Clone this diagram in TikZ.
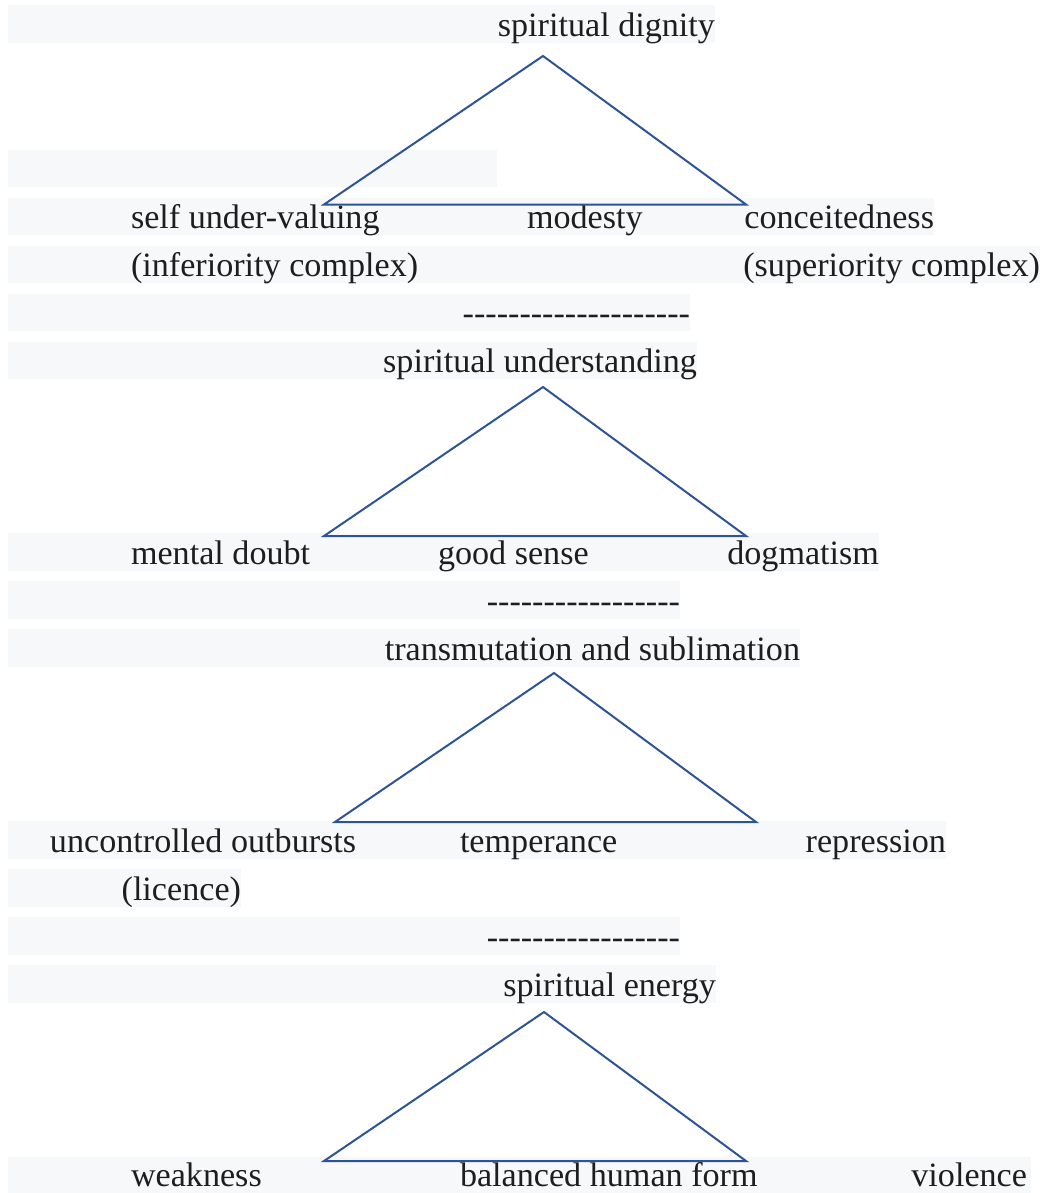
\documentclass[tikz,border=0pt]{standalone}
\usepackage{fontspec}
\setmainfont{Liberation Serif}
\definecolor{bandgray}{HTML}{F7F8FA}
\definecolor{triblue}{HTML}{2F5496}
\definecolor{txtgray}{HTML}{1E1E1E}
\begin{document}
\begin{tikzpicture}[x=0.75pt,y=-0.75pt,
  bandbox/.style={fill=bandgray,draw=none},
  lbl/.style={inner sep=0pt,outer sep=0pt,text=txtgray,font=\fontsize{25.6}{30}\selectfont},
  triline/.style={draw=triblue,line width=1.5pt,line join=miter}]
\useasboundingbox (0,0) rectangle (1044,1193);
\fill[white] (0,0) rectangle (1044,1193);
% highlight bands
\fill[bandbox] (8,5) rectangle (715,42.5);
\fill[bandbox] (8,149.5) rectangle (497,187);
\fill[bandbox] (8,197.5) rectangle (934,235);
\fill[bandbox] (8,245.5) rectangle (1040,283);
\fill[bandbox] (8,293.5) rectangle (690,331);
\fill[bandbox] (8,341.5) rectangle (697,379);
\fill[bandbox] (8,533) rectangle (879,570.5);
\fill[bandbox] (8,581) rectangle (680,618.5);
\fill[bandbox] (8,629) rectangle (800,666.5);
\fill[bandbox] (8,821) rectangle (946,858.5);
\fill[bandbox] (8,869) rectangle (241,906.5);
\fill[bandbox] (8,917) rectangle (680,954.5);
\fill[bandbox] (8,965) rectangle (716,1002.5);
\fill[bandbox] (8,1157) rectangle (1031,1193);
% row 1
\node[lbl,anchor=base east] (sd) at (715,36.5) {spiritual dignity};
% row 3
\node[lbl,anchor=base west] (suv) at (131,228.5) {self under-valuing};
\node[lbl,anchor=base west] (mod) at (527,228.5) {modesty};
\node[lbl,anchor=base east] (con) at (934,228.5) {conceitedness};
% row 4
\node[lbl,anchor=base west] (inf) at (131,276.5) {(inferiority complex)};
\node[lbl,anchor=base east] (sup) at (1040,276.5) {(superiority complex)};
% row 5
\node[lbl,anchor=base east] (d1) at (690,324.5) {-{}-{}-{}-{}-{}-{}-{}-{}-{}-{}-{}-{}-{}-{}-{}-{}-{}-{}-{}-};
% row 6
\node[lbl,anchor=base east] (su) at (697,372.5) {spiritual understanding};
% row 7
\node[lbl,anchor=base west] (md) at (131,564.5) {mental doubt};
\node[lbl,anchor=base west] (gs) at (438,564.5) {good sense};
\node[lbl,anchor=base east] (dog) at (879,564.5) {dogmatism};
% row 8
\node[lbl,anchor=base east] (d2) at (680,612.5) {-{}-{}-{}-{}-{}-{}-{}-{}-{}-{}-{}-{}-{}-{}-{}-{}-};
% row 9
\node[lbl,anchor=base east] (tas) at (800,660.5) {transmutation and sublimation};
% row 10
\node[lbl,anchor=base west] (uo) at (50,852.5) {uncontrolled outbursts};
\node[lbl,anchor=base west] (tem) at (460,852.5) {temperance};
\node[lbl,anchor=base east] (rep) at (946,852.5) {repression};
% row 11
\node[lbl,anchor=base east] (lic) at (241,900.5) {(licence)};
% row 12
\node[lbl,anchor=base east] (d3) at (680,948.5) {-{}-{}-{}-{}-{}-{}-{}-{}-{}-{}-{}-{}-{}-{}-{}-{}-};
% row 13
\node[lbl,anchor=base east] (se) at (716,996.5) {spiritual energy};
% row 14
\node[lbl,anchor=base west] (wk) at (131,1186) {weakness};
\node[lbl,anchor=base west] (bhf) at (460,1186) {balanced human form};
\node[lbl,anchor=base east] (vio) at (1027,1186) {violence};
% triangles
\coordinate (a1) at (543,56);   \coordinate (l1) at (324,204.5);  \coordinate (r1) at (746,204.5);
\coordinate (a2) at (543,387);  \coordinate (l2) at (324,536);    \coordinate (r2) at (746,536);
\coordinate (a3) at (554,673);  \coordinate (l3) at (335,822);    \coordinate (r3) at (756,822);
\coordinate (a4) at (544,1012); \coordinate (l4) at (324,1161);   \coordinate (r4) at (746,1161);
\draw[triline] (a1) -- (r1) -- (l1) -- cycle;
\draw[triline] (a2) -- (r2) -- (l2) -- cycle;
\draw[triline] (a3) -- (r3) -- (l3) -- cycle;
\draw[triline] (a4) -- (r4) -- (l4) -- cycle;
\end{tikzpicture}
\end{document}
